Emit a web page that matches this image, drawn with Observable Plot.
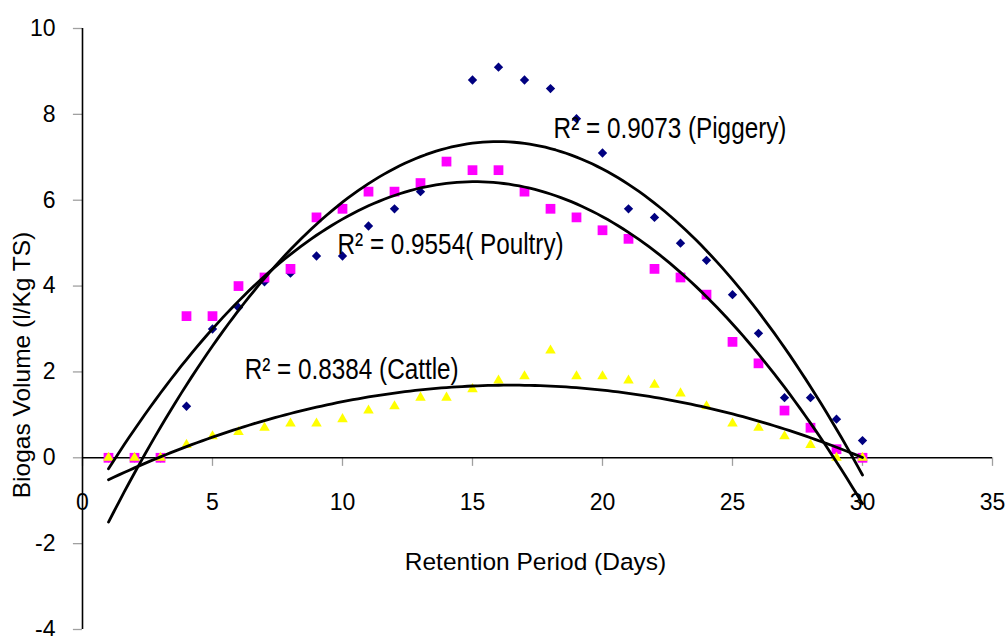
<!DOCTYPE html>
<html>
<head>
<meta charset="utf-8">
<script src="https://cdn.jsdelivr.net/npm/d3@7"></script>
<script src="https://cdn.jsdelivr.net/npm/@observablehq/plot@0.6"></script>
<style>
  html, body { margin: 0; padding: 0; background: #fff; overflow: hidden; }
  #chart svg { display: block; }
</style>
</head>
<body>
<div id="chart"></div>
<script>
// ---- data ----
const days = [1,2,3,4,5,6,7,8,9,10,11,12,13,14,15,16,17,18,19,20,21,22,23,24,25,26,27,28,29,30];
const piggery = [0,0,0,1.2,3.0,3.5,4.1,4.3,4.7,4.7,5.4,5.8,6.2,6.9,8.8,9.1,8.8,8.6,7.9,7.1,5.8,5.6,5.0,4.6,3.8,2.9,1.4,1.4,0.9,0.4];
const poultry = [0,0,0,3.3,3.3,4.0,4.2,4.4,5.6,5.8,6.2,6.2,6.4,6.9,6.7,6.7,6.2,5.8,5.6,5.3,5.1,4.4,4.2,3.8,2.7,2.2,1.1,0.7,0.2,0];
const cattle = [0,0,0,0.3,0.5,0.6,0.7,0.8,0.8,0.9,1.1,1.2,1.4,1.4,1.6,1.8,1.9,2.5,1.9,1.9,1.8,1.7,1.5,1.2,0.8,0.7,0.5,0.3,0,0];
const xTicks = [0,5,10,15,20,25,30,35];
const yTicks = [-4,-2,0,2,4,6,8,10];
const r2Labels = ["R² = 0.9073 (Piggery)", "R² = 0.9554( Poultry)", "R² = 0.8384 (Cattle)"];
const xTitle = "Retention Period (Days)";
const yTitle = "Biogas Volume (l/Kg TS)";

// ---- quadratic least-squares trend lines (as Excel's order-2 polynomial trendline) ----
function quadFit(xs, ys) {
  let S = [0,0,0,0,0], T = [0,0,0];
  xs.forEach((x, i) => {
    const y = ys[i];
    for (let k = 0; k < 5; k++) S[k] += Math.pow(x, k);
    for (let k = 0; k < 3; k++) T[k] += y * Math.pow(x, k);
  });
  const A = [[S[0],S[1],S[2],T[0]],[S[1],S[2],S[3],T[1]],[S[2],S[3],S[4],T[2]]];
  for (let i = 0; i < 3; i++) {
    let p = i;
    for (let j = i + 1; j < 3; j++) if (Math.abs(A[j][i]) > Math.abs(A[p][i])) p = j;
    [A[i], A[p]] = [A[p], A[i]];
    for (let j = 0; j < 3; j++) {
      if (j === i) continue;
      const f = A[j][i] / A[i][i];
      for (let k = i; k < 4; k++) A[j][k] -= f * A[i][k];
    }
  }
  const c = [A[0][3]/A[0][0], A[1][3]/A[1][1], A[2][3]/A[2][2]];
  return x => c[0] + c[1]*x + c[2]*x*x;
}
const xs = d3.range(days[0], days[days.length-1] + 0.001, 0.2);
const trend = [];
[["Piggery", piggery], ["Poultry", poultry], ["Cattle", cattle]].forEach(([name, ys]) => {
  const f = quadFit(days, ys);
  xs.forEach(x => trend.push({series: name, x, y: f(x)}));
});

const pts = (ys) => days.map((d, i) => ({x: d, y: ys[i]}));

const font = "'Liberation Sans', Arial, sans-serif";
const fs = 23;
const labelFs = 30;
const titleFs = 24.5;

const chart = Plot.plot({
  width: 1007,
  height: 636,
  marginLeft: 82,
  marginRight: 15,
  marginTop: 28,
  marginBottom: 7,
  x: {domain: [0, 35], axis: null},
  y: {domain: [-4, 10], axis: null},
  style: {fontFamily: font, background: "#fff", color: "#000", overflow: "visible"},
  marks: [
    // tick marks
    Plot.ruleX(xTicks, {x: d => d, y1: 0, y2: -0.2, stroke: "#a0a0a0", strokeWidth: 1.3}),
    Plot.ruleY(yTicks, {y: d => d, x1: 0, x2: -0.35, stroke: "#a0a0a0", strokeWidth: 1.3}),
    // axes lines
    Plot.ruleY([0], {x1: 0, x2: 35, stroke: "#000", strokeWidth: 1.6}),
    Plot.ruleX([0], {y1: -4, y2: 10, stroke: "#000", strokeWidth: 1.6}),
    // tick labels
    Plot.text(xTicks, {x: d => d, y: 0, dy: 45, text: d => String(d), fontSize: fs, fill: "#000"}),
    Plot.text(yTicks, {x: 0, y: d => d, dx: -27, text: d => String(d), textAnchor: "end", fontSize: fs, fill: "#000"}),
    // points
    Plot.dot(pts(piggery), {x: "x", y: "y", symbol: "diamond2", r: 4.2, fill: "#000080", stroke: null}),
    Plot.dot(pts(poultry), {x: "x", y: "y", symbol: "square", r: 5.5, fill: "#FF00FF", stroke: null}),
    Plot.dot(pts(cattle), {x: "x", y: "y", symbol: "triangle", r: 3.9, fill: "#FFFF00", stroke: null}),
    // trend lines
    Plot.line(trend, {x: "x", y: "y", z: "series", stroke: "#000", strokeWidth: 2.8}),
    // R² labels
    Plot.text([r2Labels[0]], {x: 18.12, y: 7.67, text: d => d, textAnchor: "start", fontSize: labelFs, fill: "#000"}),
    Plot.text([r2Labels[1]], {x: 9.81, y: 4.97, text: d => d, textAnchor: "start", fontSize: labelFs, fill: "#000"}),
    Plot.text([r2Labels[2]], {x: 6.24, y: 2.05, text: d => d, textAnchor: "start", fontSize: labelFs, fill: "#000"}),
    // axis titles
    Plot.text([xTitle], {frameAnchor: "bottom", dx: -2, dy: -60, text: d => d, textAnchor: "middle", fontSize: titleFs, fill: "#000"}),
    Plot.text([yTitle], {frameAnchor: "left", dx: -60, dy: 36, rotate: -90, text: d => d, textAnchor: "middle", fontSize: titleFs, fill: "#000"})
  ]
});

// condense the R² labels horizontally (narrow face as in the original)
d3.select(chart).selectAll("text")
  .filter(function() { return this.textContent.startsWith("R²"); })
  .each(function() {
    const t = this.getAttribute("transform") || "";
    this.setAttribute("transform", (t + " scale(0.81,1)").trim());
  });

document.getElementById("chart").appendChild(chart);
</script>
</body>
</html>
